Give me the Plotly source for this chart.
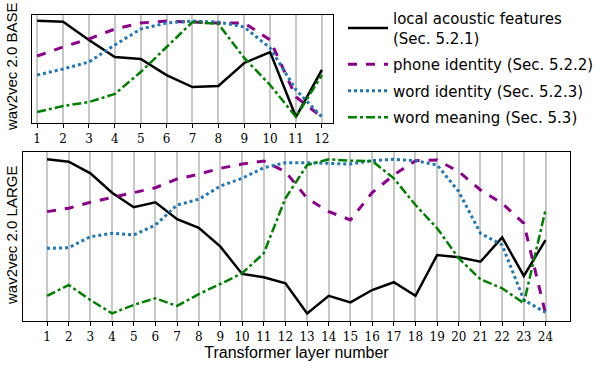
import plotly.graph_objects as go

layers_base = list(range(1, 13))
layers_large = list(range(1, 25))

names = ["local acoustic features<br>(Sec. 5.2.1)", "phone identity (Sec. 5.2.2)",
         "word identity (Sec. 5.2.3)", "word meaning (Sec. 5.3)"]

base_local = [0.947, 0.938, 0.769, 0.611, 0.593, 0.444, 0.333, 0.343, 0.556, 0.657, 0.056, 0.491]
base_phone = [0.620, 0.704, 0.778, 0.870, 0.926, 0.944, 0.935, 0.926, 0.926, 0.769, 0.241, 0.056]
base_word = [0.444, 0.500, 0.565, 0.722, 0.870, 0.926, 0.944, 0.935, 0.889, 0.694, 0.306, 0.056]
base_meaning = [0.102, 0.157, 0.194, 0.269, 0.472, 0.704, 0.935, 0.917, 0.602, 0.352, 0.056, 0.444]

large_local = [0.955, 0.941, 0.872, 0.758, 0.672, 0.701, 0.601, 0.551, 0.439, 0.278, 0.258, 0.223,
               0.045, 0.149, 0.110, 0.183, 0.229, 0.149, 0.390, 0.376, 0.350, 0.494, 0.266, 0.478]
large_phone = [0.646, 0.666, 0.701, 0.731, 0.758, 0.787, 0.839, 0.867, 0.902, 0.927, 0.945, 0.882,
               0.725, 0.646, 0.597, 0.758, 0.862, 0.947, 0.951, 0.882, 0.774, 0.695, 0.577, 0.045]
large_word = [0.429, 0.433, 0.498, 0.518, 0.508, 0.567, 0.685, 0.719, 0.797, 0.843, 0.905, 0.935,
              0.935, 0.931, 0.927, 0.947, 0.955, 0.947, 0.921, 0.764, 0.518, 0.449, 0.124, 0.051]
large_meaning = [0.148, 0.213, 0.124, 0.045, 0.095, 0.134, 0.089, 0.159, 0.219, 0.282, 0.400, 0.725,
                 0.921, 0.955, 0.947, 0.945, 0.843, 0.685, 0.548, 0.370, 0.246, 0.193, 0.105, 0.656]

styles = [dict(color="black", dash="solid", width=2.5),
          dict(color="#8b008b", dash="dash", width=3),
          dict(color="#1f77b4", dash="dot", width=3),
          dict(color="green", dash="dashdot", width=2.5)]

fig = go.Figure()
for i, (name, ys, st) in enumerate(zip(names, [base_local, base_phone, base_word, base_meaning], styles)):
    fig.add_trace(go.Scatter(x=layers_base, y=ys, mode="lines", name=name, line=st,
                             legendgroup=f"g{i}", xaxis="x", yaxis="y", showlegend=True))
for i, (name, ys, st) in enumerate(zip(names, [large_local, large_phone, large_word, large_meaning], styles)):
    fig.add_trace(go.Scatter(x=layers_large, y=ys, mode="lines", name=name, line=st,
                             legendgroup=f"g{i}", xaxis="x2", yaxis="y2", showlegend=False))

tickfont = dict(family="DejaVu Serif", size=12, color="black")
axcommon = dict(showline=True, linecolor="black", linewidth=1.2, mirror=True,
                showgrid=True, gridcolor="#c8c8c8", gridwidth=2, ticks="outside",
                ticklen=4, tickcolor="black", tickfont=tickfont, zeroline=False)
ycommon = dict(range=[0, 1], showticklabels=False, showgrid=False, ticks="",
               showline=True, linecolor="black", linewidth=1.2, mirror=True, zeroline=False)

fig.update_layout(
    width=600, height=372, margin=dict(l=0, r=0, t=0, b=0),
    paper_bgcolor="white", plot_bgcolor="white",
    font=dict(family="Liberation Sans", color="black"),
    xaxis=dict(domain=[32/600, 333/600], range=[0.8, 12.43], anchor="y",
               tickvals=layers_base, **axcommon),
    yaxis=dict(domain=[1-123/372, 1-15/372], anchor="x", **ycommon),
    xaxis2=dict(domain=[23/600, 570/600], range=[-0.11, 25.13], anchor="y2",
                tickvals=layers_large,
                title=dict(text="Transformer layer number", font=dict(size=16, family="Liberation Sans"),
                           standoff=4), **axcommon),
    yaxis2=dict(domain=[1-321/372, 1-151.7/372], anchor="x2", **ycommon),
    legend=dict(x=343/600, y=1-2/372, xanchor="left", yanchor="top", bgcolor="rgba(0,0,0,0)",
                font=dict(size=15, family="DejaVu Sans"), tracegroupgap=4, itemwidth=40),
    annotations=[
        dict(text="wav2vec 2.0 BASE", textangle=-90, x=11/600, y=1-67/372, xref="paper",
             yref="paper", xanchor="center", yanchor="middle", showarrow=False, font=dict(size=15)),
        dict(text="wav2vec 2.0 LARGE", textangle=-90, x=11/600, y=1-236/372, xref="paper",
             yref="paper", xanchor="center", yanchor="middle", showarrow=False, font=dict(size=15)),
    ],
)

fig.write_html("out.html", post_script="document.body.style.margin='0px';",
               config={"displayModeBar": False})
